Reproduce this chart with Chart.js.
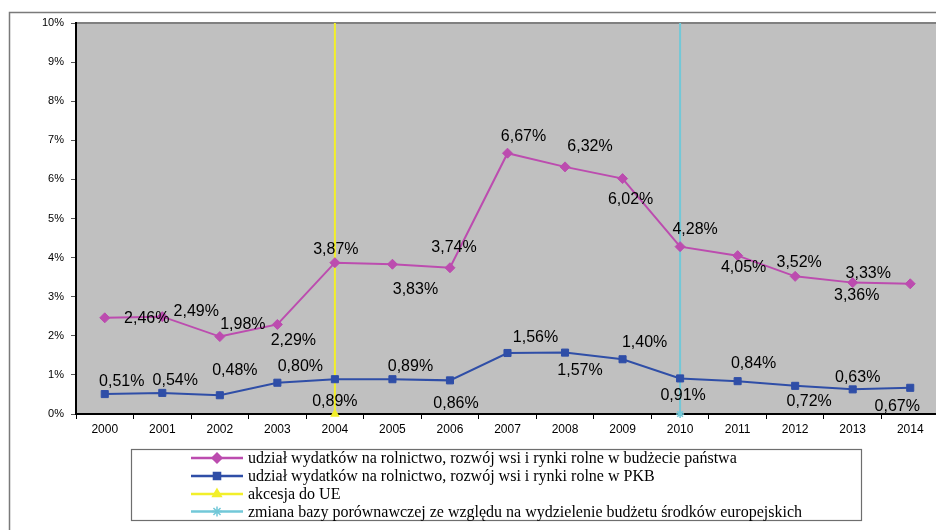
<!DOCTYPE html>
<html lang="pl">
<head>
<meta charset="utf-8">
<title>Udział wydatków na rolnictwo</title>
<script src="https://cdn.jsdelivr.net/npm/chart.js@4/dist/chart.umd.min.js"></script>
<style>
  html, body { margin: 0; padding: 0; background: #fff; overflow: hidden; width: 936px; height: 530px; }
  #wrap { width: 950px; height: 530px; }
</style>
</head>
<body>
<div id="wrap"><canvas id="chart" width="950" height="530"></canvas></div>
<script>
// ============================
// Dane
// ============================
const years = ['2000', '2001', '2002', '2003', '2004', '2005', '2006', '2007', '2008', '2009', '2010', '2011', '2012', '2013', '2014'];
const budgetShare = [2.46, 2.49, 1.98, 2.29, 3.87, 3.83, 3.74, 6.67, 6.32, 6.02, 4.28, 4.05, 3.52, 3.36, 3.33];
const gdpShare = [0.51, 0.54, 0.48, 0.80, 0.89, 0.89, 0.86, 1.56, 1.57, 1.40, 0.91, 0.84, 0.72, 0.63, 0.67];
const yTicks = [0, 1, 2, 3, 4, 5, 6, 7, 8, 9, 10];
const accessionYear = '2004';
const baseChangeYear = '2010';
const seriesNames = [
  'udział wydatków na rolnictwo, rozwój wsi i rynki rolne w budżecie państwa',
  'udział wydatków na rolnictwo, rozwój wsi i rynki rolne w PKB',
  'akcesja do UE',
  'zmiana bazy porównawczej ze względu na wydzielenie budżetu środków europejskich'
];

// przesunięcia etykiet względem punktów (px)
const budgetLabelShift = [[42, 1], [34, -5], [23, -12], [16, 16], [1, -13], [23, 25], [4, -20], [16, -17], [25, -20], [8, 21], [15, -17], [6, 12], [4, -14], [4, 13], [-42, -10]];
const gdpLabelShift = [[17, -12], [13, -12], [15, -25], [23, -16], [0, 22], [18, -13], [6, 23], [28, -15], [15, 18], [22, -17], [3, 17], [16, -18], [14, 16], [5, -12], [-13, 19]];

const colors = ['#bc4caf', '#2f4ea7', '#f2ef2a', '#72c8d8'];
const markers = ['rectRot', 'rect', 'triangle', 'star'];
const yMin = yTicks[0];
const yMax = yTicks[yTicks.length - 1];

function fmt(v) {
  return v.toFixed(2).replace('.', ',') + '%';
}

// ============================
// Pluginy
// ============================
const plotBackground = {
  id: 'plotBackground',
  beforeDraw(chart) {
    const { ctx, chartArea: a } = chart;
    ctx.save();
    ctx.fillStyle = '#fff';
    ctx.fillRect(0, 0, chart.width, chart.height);
    ctx.fillStyle = '#c0c0c0';
    ctx.fillRect(a.left, a.top, a.right - a.left, a.bottom - a.top);
    ctx.strokeStyle = '#808080';
    ctx.lineWidth = 2;
    ctx.beginPath();
    ctx.moveTo(a.left, a.top);
    ctx.lineTo(a.right, a.top);
    ctx.stroke();
    // ramka całego wykresu
    ctx.lineWidth = 1.5;
    ctx.strokeStyle = '#7a7a7a';
    ctx.strokeRect(9.5, 12.5, chart.width + 20, chart.height + 20);
    ctx.restore();
  }
};

const valueLabels = {
  id: 'valueLabels',
  afterDatasetsDraw(chart) {
    const ctx = chart.ctx;
    const shifts = [budgetLabelShift, gdpLabelShift];
    ctx.save();
    ctx.font = '16px "Liberation Sans", Arial, sans-serif';
    ctx.fillStyle = '#000';
    ctx.textAlign = 'center';
    ctx.textBaseline = 'middle';
    [0, 1].forEach(di => {
      const meta = chart.getDatasetMeta(di);
      const values = chart.data.datasets[di].data;
      meta.data.forEach((pt, i) => {
        const [dx, dy] = shifts[di][i];
        ctx.fillText(fmt(values[i]), pt.x + dx, pt.y + dy);
      });
    });
    ctx.restore();
  }
};

const boxLegend = {
  id: 'boxLegend',
  afterDraw(chart) {
    const ctx = chart.ctx;
    ctx.save();
    ctx.strokeStyle = '#6e6e6e';
    ctx.lineWidth = 1.2;
    ctx.strokeRect(131.5, 449.5, 730, 71);
    ctx.font = '16px "Liberation Serif", "Times New Roman", serif';
    ctx.textBaseline = 'middle';
    ctx.textAlign = 'left';
    const rows = [458, 476, 494, 511.5];
    seriesNames.forEach((name, i) => {
      const y = rows[i];
      ctx.strokeStyle = colors[i];
      ctx.lineWidth = 2.5;
      ctx.beginPath();
      ctx.moveTo(191, y);
      ctx.lineTo(243, y);
      ctx.stroke();
      ctx.fillStyle = colors[i];
      ctx.lineWidth = 1.5;
      Chart.helpers.drawPoint(ctx, { pointStyle: markers[i], radius: 5, rotation: 0, borderWidth: 1.5 }, 217, y);
      ctx.fillStyle = '#000';
      ctx.fillText(name, 248, y + 1);
    });
    ctx.restore();
  }
};

// ============================
// Wykres
// ============================
function verticalLine(label, year, i) {
  return {
    label: label,
    data: [{ x: year, y: yMax }, { x: year, y: yMin }],
    borderColor: colors[i],
    backgroundColor: colors[i],
    borderWidth: 2,
    pointStyle: markers[i],
    pointRadius: [0, 4],
    pointBorderWidth: 1.5,
    clip: false
  };
}

new Chart(document.getElementById('chart'), {
  type: 'line',
  data: {
    labels: years,
    datasets: [
      {
        label: seriesNames[0],
        data: budgetShare,
        borderColor: colors[0],
        backgroundColor: colors[0],
        borderWidth: 2,
        pointStyle: markers[0],
        pointRadius: 5,
        pointBorderWidth: 1,
        tension: 0
      },
      {
        label: seriesNames[1],
        data: gdpShare,
        borderColor: colors[1],
        backgroundColor: colors[1],
        borderWidth: 2,
        pointStyle: markers[1],
        pointRadius: 5,
        pointBorderWidth: 1,
        tension: 0
      },
      verticalLine(seriesNames[2], accessionYear, 2),
      verticalLine(seriesNames[3], baseChangeYear, 3)
    ]
  },
  options: {
    responsive: false,
    animation: false,
    devicePixelRatio: 1,
    layout: { padding: { left: 0, top: 23, right: 11, bottom: 0 } },
    plugins: {
      legend: { display: false },
      tooltip: { enabled: false }
    },
    scales: {
      x: {
        type: 'category',
        offset: true,
        grid: { offset: true, drawOnChartArea: false, color: '#000', tickLength: 5, tickWidth: 1 },
        border: { color: '#000', width: 2 },
        ticks: { color: '#000', padding: 3, maxRotation: 0, autoSkip: false, font: { family: '"Liberation Sans", Arial, sans-serif', size: 12 } },
        afterFit(scale) { scale.height = 116; }
      },
      y: {
        min: yMin,
        max: yMax,
        grid: { drawOnChartArea: false, color: '#555', tickLength: 5, tickWidth: 1 },
        border: { color: '#000', width: 2 },
        afterBuildTicks(scale) { scale.ticks = yTicks.map(v => ({ value: v })); },
        ticks: {
          color: '#000',
          padding: 7,
          font: { family: '"Liberation Sans", Arial, sans-serif', size: 11 },
          callback: v => v + '%'
        },
        afterFit(scale) { scale.width = 76; }
      }
    }
  },
  plugins: [plotBackground, valueLabels, boxLegend]
});
</script>
</body>
</html>
